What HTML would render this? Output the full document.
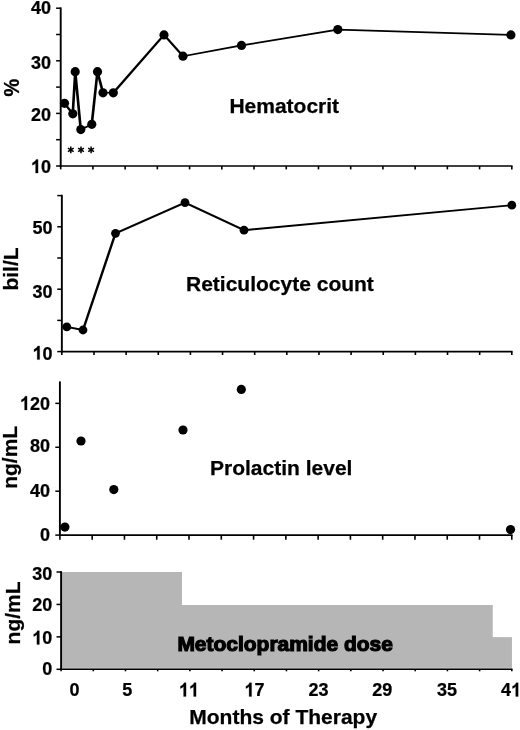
<!DOCTYPE html>
<html><head><meta charset="utf-8"><title>Chart</title>
<style>html,body{margin:0;padding:0;background:#fff;}svg{display:block;will-change:transform;filter:grayscale(1);}text{font-family:"Liberation Sans",sans-serif;font-weight:bold;fill:#000;stroke:#000;stroke-width:0.25px;}.dg{font-size:19px;}.ti{font-size:21px;}.vx{stroke:#000;stroke-width:1.9;fill:none;}.hx{stroke:#000;stroke-width:1.6;fill:none;}.vt{stroke:#000;stroke-width:1.6;fill:none;}.ht{stroke:#000;stroke-width:1.5;fill:none;}.ln{stroke:#000;stroke-width:1.7;fill:none;stroke-linejoin:round;}.as{stroke:#000;stroke-width:1.5;fill:none;}.one{fill:#000;stroke:#000;stroke-width:28;}</style></head><body>
<svg width="520" height="730" viewBox="0 0 520 730">
<rect width="520" height="730" fill="#fff"/>
<path class="vx" d="M60.7 7.3999999999999995V166.8"/>
<path class="hx" d="M59.7 166.0H512.5"/>
<path class="ht" d="M56.10 166.00H60.7"/>
<path class="ht" d="M56.10 139.70H60.7"/>
<path class="ht" d="M56.10 113.40H60.7"/>
<path class="ht" d="M56.10 87.10H60.7"/>
<path class="ht" d="M56.10 60.80H60.7"/>
<path class="ht" d="M56.10 34.50H60.7"/>
<path class="ht" d="M56.10 8.20H60.7"/>
<path class="vt" d="M60.70 166.0V169.4"/>
<path class="vt" d="M92.92 166.0V169.4"/>
<path class="vt" d="M125.14 166.0V169.4"/>
<path class="vt" d="M157.36 166.0V169.4"/>
<path class="vt" d="M189.59 166.0V169.4"/>
<path class="vt" d="M221.81 166.0V169.4"/>
<path class="vt" d="M254.03 166.0V169.4"/>
<path class="vt" d="M286.25 166.0V169.4"/>
<path class="vt" d="M318.47 166.0V169.4"/>
<path class="vt" d="M350.69 166.0V169.4"/>
<path class="vt" d="M382.91 166.0V169.4"/>
<path class="vt" d="M415.14 166.0V169.4"/>
<path class="vt" d="M447.36 166.0V169.4"/>
<path class="vt" d="M479.58 166.0V169.4"/>
<path class="vt" d="M511.80 166.0V169.4"/>
<g transform="translate(30.99,14.40) scale(0.947,1)">
<text class="dg" x="0.00" y="0">40</text>
</g>
<g transform="translate(30.99,68.50) scale(0.947,1)">
<text class="dg" x="0.00" y="0">30</text>
</g>
<g transform="translate(30.99,121.40) scale(0.947,1)">
<text class="dg" x="0.00" y="0">20</text>
</g>
<g transform="translate(30.99,173.10) scale(0.947,1)">
<path class="one" transform="translate(0.00,0) scale(0.009277,-0.009277)" d="M806 0H525V1059Q371 915 162 846V1101Q272 1137 401 1237.5Q530 1338 578 1472H806Z"/>
<text class="dg" x="10.57" y="0">0</text>
</g>
<path class="ln" style="stroke-width:1.7" transform="scale(1.55,1)" d="M41.65 103.28 L46.94 113.80 L48.55 71.72 L52.10 129.58 L59.19 124.32 L62.87 71.72 L66.42 92.76 L73.13 92.76 L105.81 34.90 L118.06 56.20 L155.81 45.42 L217.90 29.64 L329.58 34.90"/>
<circle cx="64.5" cy="103.3" r="4.6" fill="#000"/>
<circle cx="72.8" cy="113.8" r="4.6" fill="#000"/>
<circle cx="75.2" cy="71.7" r="4.6" fill="#000"/>
<circle cx="80.8" cy="129.6" r="4.6" fill="#000"/>
<circle cx="91.8" cy="124.3" r="4.6" fill="#000"/>
<circle cx="97.5" cy="71.7" r="4.6" fill="#000"/>
<circle cx="103.0" cy="92.8" r="4.6" fill="#000"/>
<circle cx="113.3" cy="92.8" r="4.6" fill="#000"/>
<circle cx="164.0" cy="34.9" r="4.6" fill="#000"/>
<circle cx="183.0" cy="56.2" r="4.6" fill="#000"/>
<circle cx="241.5" cy="45.4" r="4.6" fill="#000"/>
<circle cx="337.8" cy="29.6" r="4.6" fill="#000"/>
<circle cx="510.9" cy="34.9" r="4.6" fill="#000"/>
<text class="ti" x="229.4" y="113.0">Hematocrit</text>
<path class="as" d="M70.8 146.5V153.3M67.89999999999999 148.15L73.7 151.65M67.89999999999999 151.65L73.7 148.15"/>
<path class="as" d="M81.0 146.5V153.3M78.1 148.15L83.9 151.65M78.1 151.65L83.9 148.15"/>
<path class="as" d="M91.1 146.5V153.3M88.19999999999999 148.15L94.0 151.65M88.19999999999999 151.65L94.0 148.15"/>
<text class="ti" transform="translate(18.6,87.6) rotate(-90) scale(0.95,1.09)" text-anchor="middle">%</text>
<path class="vx" d="M61.85 194.79999999999998V352.40000000000003"/>
<path class="hx" d="M60.85 351.6H512.5"/>
<path class="ht" d="M57.25 351.60H61.85"/>
<path class="ht" d="M57.25 320.40H61.85"/>
<path class="ht" d="M57.25 289.20H61.85"/>
<path class="ht" d="M57.25 258.00H61.85"/>
<path class="ht" d="M57.25 226.80H61.85"/>
<path class="ht" d="M57.25 195.60H61.85"/>
<path class="vt" d="M61.85 351.6V355.0"/>
<path class="vt" d="M93.99 351.6V355.0"/>
<path class="vt" d="M126.13 351.6V355.0"/>
<path class="vt" d="M158.27 351.6V355.0"/>
<path class="vt" d="M190.41 351.6V355.0"/>
<path class="vt" d="M222.55 351.6V355.0"/>
<path class="vt" d="M254.69 351.6V355.0"/>
<path class="vt" d="M286.82 351.6V355.0"/>
<path class="vt" d="M318.96 351.6V355.0"/>
<path class="vt" d="M351.10 351.6V355.0"/>
<path class="vt" d="M383.24 351.6V355.0"/>
<path class="vt" d="M415.38 351.6V355.0"/>
<path class="vt" d="M447.52 351.6V355.0"/>
<path class="vt" d="M479.66 351.6V355.0"/>
<path class="vt" d="M511.80 351.6V355.0"/>
<g transform="translate(32.59,234.10) scale(0.947,1)">
<text class="dg" x="0.00" y="0">50</text>
</g>
<g transform="translate(32.59,297.90) scale(0.947,1)">
<text class="dg" x="0.00" y="0">30</text>
</g>
<g transform="translate(32.59,359.60) scale(0.947,1)">
<path class="one" transform="translate(0.00,0) scale(0.009277,-0.009277)" d="M806 0H525V1059Q371 915 162 846V1101Q272 1137 401 1237.5Q530 1338 578 1472H806Z"/>
<text class="dg" x="10.57" y="0">0</text>
</g>
<path class="ln" style="stroke-width:1.95" transform="scale(1.25,1)" d="M53.44 326.89 L66.40 330.01 L92.40 233.29 L148.00 202.56 L195.20 230.17 L409.44 205.21"/>
<circle cx="66.8" cy="326.9" r="4.4" fill="#000"/>
<circle cx="83.0" cy="330.0" r="4.4" fill="#000"/>
<circle cx="115.5" cy="233.3" r="4.4" fill="#000"/>
<circle cx="185.0" cy="202.6" r="4.4" fill="#000"/>
<circle cx="244.0" cy="230.2" r="4.4" fill="#000"/>
<circle cx="511.8" cy="205.2" r="4.4" fill="#000"/>
<text class="ti" x="186" y="290.7">Reticulocyte count</text>
<text class="ti" transform="translate(18.4,269) rotate(-90)" text-anchor="middle">bil/L</text>
<path class="vx" d="M59.9 381.4V535.9"/>
<path class="hx" d="M58.9 535.1H512.5"/>
<path class="ht" d="M55.30 535.10H59.9"/>
<path class="ht" d="M55.30 491.19H59.9"/>
<path class="ht" d="M55.30 447.27H59.9"/>
<path class="ht" d="M55.30 403.36H59.9"/>
<path class="vt" d="M59.90 535.1V539.7"/>
<path class="vt" d="M92.18 535.1V539.7"/>
<path class="vt" d="M124.46 535.1V539.7"/>
<path class="vt" d="M156.74 535.1V539.7"/>
<path class="vt" d="M189.01 535.1V539.7"/>
<path class="vt" d="M221.29 535.1V539.7"/>
<path class="vt" d="M253.57 535.1V539.7"/>
<path class="vt" d="M285.85 535.1V539.7"/>
<path class="vt" d="M318.13 535.1V539.7"/>
<path class="vt" d="M350.41 535.1V539.7"/>
<path class="vt" d="M382.69 535.1V539.7"/>
<path class="vt" d="M414.96 535.1V539.7"/>
<path class="vt" d="M447.24 535.1V539.7"/>
<path class="vt" d="M479.52 535.1V539.7"/>
<path class="vt" d="M511.80 535.1V539.7"/>
<g transform="translate(19.98,409.90) scale(0.947,1)">
<path class="one" transform="translate(0.00,0) scale(0.009277,-0.009277)" d="M806 0H525V1059Q371 915 162 846V1101Q272 1137 401 1237.5Q530 1338 578 1472H806Z"/>
<text class="dg" x="10.57" y="0">20</text>
</g>
<g transform="translate(29.99,452.20) scale(0.947,1)">
<text class="dg" x="0.00" y="0">80</text>
</g>
<g transform="translate(29.99,496.70) scale(0.947,1)">
<text class="dg" x="0.00" y="0">40</text>
</g>
<g transform="translate(39.99,541.30) scale(0.947,1)">
<text class="dg" x="0.00" y="0">0</text>
</g>
<circle cx="64.9" cy="527.1" r="4.6" fill="#000"/>
<circle cx="81.0" cy="441.0" r="4.6" fill="#000"/>
<circle cx="113.8" cy="489.6" r="4.6" fill="#000"/>
<circle cx="183.0" cy="430.0" r="4.6" fill="#000"/>
<circle cx="241.3" cy="389.4" r="4.6" fill="#000"/>
<circle cx="510.5" cy="529.6" r="4.6" fill="#000"/>
<text class="ti" x="210.0" y="475.3">Prolactin level</text>
<text class="ti" transform="translate(16.6,457.3) rotate(-90)" text-anchor="middle">ng/mL</text>
<path d="M62 669.3V572H182V605.1H492.6V637.2H511.9V669.3Z" fill="#d2d2d2"/>
<path d="M62 667.7V572H182V605.1H492.6V637.2H511.9V667.7Z" fill="#b6b6b6"/>
<path class="vx" d="M61.1 571.2V670.0999999999999"/>
<path class="hx" d="M60.1 669.3H512.5"/>
<path class="ht" d="M56.50 669.30H61.1"/>
<path class="ht" d="M56.50 636.87H61.1"/>
<path class="ht" d="M56.50 604.43H61.1"/>
<path class="ht" d="M56.50 572.00H61.1"/>
<path class="vt" d="M61.10 669.3V671.3"/>
<path class="vt" d="M93.29 669.3V671.3"/>
<path class="vt" d="M125.49 669.3V671.3"/>
<path class="vt" d="M157.68 669.3V671.3"/>
<path class="vt" d="M189.87 669.3V671.3"/>
<path class="vt" d="M222.06 669.3V671.3"/>
<path class="vt" d="M254.26 669.3V671.3"/>
<path class="vt" d="M286.45 669.3V671.3"/>
<path class="vt" d="M318.64 669.3V671.3"/>
<path class="vt" d="M350.84 669.3V671.3"/>
<path class="vt" d="M383.03 669.3V671.3"/>
<path class="vt" d="M415.22 669.3V671.3"/>
<path class="vt" d="M447.41 669.3V671.3"/>
<path class="vt" d="M479.61 669.3V671.3"/>
<path class="vt" d="M511.80 669.3V671.3"/>
<g transform="translate(32.29,580.10) scale(0.947,1)">
<text class="dg" x="0.00" y="0">30</text>
</g>
<g transform="translate(32.29,610.90) scale(0.947,1)">
<text class="dg" x="0.00" y="0">20</text>
</g>
<g transform="translate(32.29,644.40) scale(0.947,1)">
<path class="one" transform="translate(0.00,0) scale(0.009277,-0.009277)" d="M806 0H525V1059Q371 915 162 846V1101Q272 1137 401 1237.5Q530 1338 578 1472H806Z"/>
<text class="dg" x="10.57" y="0">0</text>
</g>
<g transform="translate(42.29,674.50) scale(0.947,1)">
<text class="dg" x="0.00" y="0">0</text>
</g>
<text class="ti" x="177.4" y="651.4" style="stroke-width:1.2px" textLength="215.5" lengthAdjust="spacingAndGlyphs">Metoclopramide dose</text>
<text class="ti" transform="translate(20,612.9) rotate(-90)" text-anchor="middle">ng/mL</text>
<g transform="translate(69.50,696.40) scale(0.947,1)">
<text class="dg" x="0.00" y="0">0</text>
</g>
<g transform="translate(122.25,696.40) scale(0.947,1)">
<text class="dg" x="0.00" y="0">5</text>
</g>
<g transform="translate(178.99,696.40) scale(0.947,1)">
<path class="one" transform="translate(0.00,0) scale(0.009277,-0.009277)" d="M806 0H525V1059Q371 915 162 846V1101Q272 1137 401 1237.5Q530 1338 578 1472H806Z"/>
<path class="one" transform="translate(10.57,0) scale(0.009277,-0.009277)" d="M806 0H525V1059Q371 915 162 846V1101Q272 1137 401 1237.5Q530 1338 578 1472H806Z"/>
</g>
<g transform="translate(244.49,696.40) scale(0.947,1)">
<path class="one" transform="translate(0.00,0) scale(0.009277,-0.009277)" d="M806 0H525V1059Q371 915 162 846V1101Q272 1137 401 1237.5Q530 1338 578 1472H806Z"/>
<text class="dg" x="10.57" y="0">7</text>
</g>
<g transform="translate(308.49,696.40) scale(0.947,1)">
<text class="dg" x="0.00" y="0">23</text>
</g>
<g transform="translate(372.29,696.40) scale(0.947,1)">
<text class="dg" x="0.00" y="0">29</text>
</g>
<g transform="translate(437.09,696.40) scale(0.947,1)">
<text class="dg" x="0.00" y="0">35</text>
</g>
<g transform="translate(501.09,696.40) scale(0.947,1)">
<text class="dg" x="0.00" y="0">4</text>
<path class="one" transform="translate(10.57,0) scale(0.009277,-0.009277)" d="M806 0H525V1059Q371 915 162 846V1101Q272 1137 401 1237.5Q530 1338 578 1472H806Z"/>
</g>
<text class="ti" x="189.3" y="723.7">Months of Therapy</text>
</svg></body></html>
